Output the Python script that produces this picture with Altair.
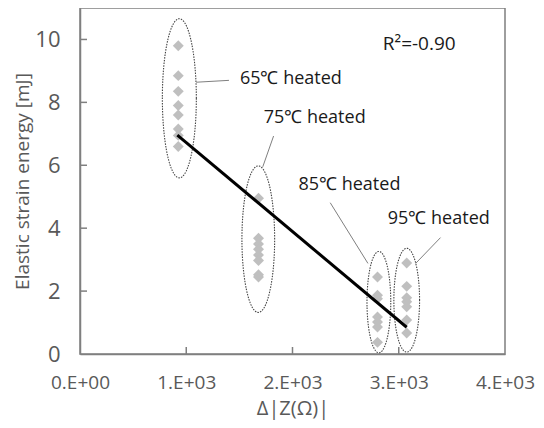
import altair as alt
import numpy as np
import pandas as pd

# ---- data ----
g65_y = [9.80, 8.85, 8.35, 7.90, 7.60, 7.15, 6.95, 6.60]
g75_y = [4.95, 3.68, 3.50, 3.33, 3.15, 2.97, 2.52, 2.45]
g85_y = [2.45, 1.87, 1.76, 1.18, 1.02, 0.86, 0.37]
g95_y = [2.89, 2.15, 1.79, 1.66, 1.50, 1.08, 0.67]
group_x = [925, 1680, 2800, 3075]
groups = ["65℃ heated", "75℃ heated", "85℃ heated", "95℃ heated"]

fit_x = [916, 3075]
fit_y = [6.96, 0.85]

# ellipse annotations: centre x, centre y, half-width (x units), half-height (y units)
ell_cx = [935, 1678, 2813, 3075]
ell_cy = [8.13, 3.65, 1.65, 1.71]
ell_rx = [160, 154, 112, 121]
ell_ry = [2.53, 2.33, 1.61, 1.65]

# leader lines and labels
lead_x1 = [1093, 1720, 2710, 3159]
lead_y1 = [8.64, 5.95, 2.88, 2.88]
lead_x2 = [1402, 1822, 2355, 3393]
lead_y2 = [8.70, 6.93, 4.81, 3.70]
label_x = [1505, 1729, 2056, 2897]
label_y = [8.73, 7.50, 5.38, 4.30]

r2_text = "R²=-0.90"
r2_x = 2850
r2_y = 9.87

y_ticks = [2, 4, 6, 8, 10]
x_ticks = [1000, 2000, 3000]

# ---- tables ----
pts = pd.DataFrame(
    [{"x": gx, "y": v, "g": g}
     for gx, g, ys in zip(group_x, groups, [g65_y, g75_y, g85_y, g95_y])
     for v in ys]
)
fit = pd.DataFrame({"x": fit_x, "y": fit_y})

t = np.linspace(0, 2 * np.pi, 121)
ell_rows = []
for i, g in enumerate(groups):
    for k, a in enumerate(t):
        ell_rows.append({"g": g, "k": k,
                         "x": ell_cx[i] + ell_rx[i] * np.cos(a),
                         "y": ell_cy[i] + ell_ry[i] * np.sin(a)})
ell = pd.DataFrame(ell_rows)

lead = pd.DataFrame({"x": lead_x1, "y": lead_y1, "x2": lead_x2, "y2": lead_y2})
labs = pd.DataFrame({"x": label_x, "y": label_y, "t": groups})
r2 = pd.DataFrame({"x": [r2_x], "y": [r2_y], "t": [r2_text]})

W, H = 425, 346
FONT = "Open Sans"
GRAY = "#595959"

xscale = alt.Scale(domain=[0, 4000], nice=False, zero=False)
yscale = alt.Scale(domain=[0, 11], nice=False, zero=False)

xaxis = alt.Axis(
    values=[0, 1000, 2000, 3000, 4000],
    labelExpr="datum.value == 0 ? '0.E+00' : format(datum.value/1000, 'd') + '.E+03'",
    title="Δ|Z(Ω)|", grid=False, ticks=False, labelPadding=19, titlePadding=6,
    labelFontSize=19, titleFontSize=20, labelFlush=False, labelOverlap=False,
)
yaxis = alt.Axis(
    values=[0, 2, 4, 6, 8, 10], title="Elastic strain energy [mJ]",
    grid=False, ticks=False, labelPadding=20, titlePadding=2,
    labelFontSize=22, titleFontSize=19, labelFlush=False, labelOverlap=False,
)

X = lambda f="x": alt.X(f"{f}:Q", scale=xscale, axis=xaxis)
Y = lambda f="y": alt.Y(f"{f}:Q", scale=yscale, axis=yaxis)

points = alt.Chart(pts).mark_point(
    shape="diamond", filled=True, color="#bfbfbf", size=120, opacity=1
).encode(x=X(), y=Y())

line = alt.Chart(fit).mark_line(color="black", strokeWidth=3).encode(x=X(), y=Y())

ellipses = alt.Chart(ell).mark_line(
    color="#444444", strokeWidth=1.1, strokeDash=[1.5, 1.2]
).encode(x=X(), y=Y(), detail="g:N", order="k:Q")

leaders = alt.Chart(lead).mark_rule(color="#7f7f7f", strokeWidth=1).encode(
    x=X(), y=Y(), x2="x2:Q", y2="y2:Q"
)

labels = alt.Chart(labs).mark_text(
    align="left", baseline="middle", font=FONT, fontSize=18, color="#1a1a1a"
).encode(x=X(), y=Y(), text="t:N")

r2_label = alt.Chart(r2).mark_text(
    align="left", baseline="middle", font=FONT, fontSize=19, color="#1a1a1a"
).encode(x=X(), y=Y(), text="t:N")

ytick_df = pd.DataFrame({"y": y_ticks})
yticks = alt.Chart(ytick_df).mark_rule(color="#7f7f7f", strokeWidth=1.5).encode(
    y=Y(), x=alt.value(0), x2=alt.value(7)
)
xtick_df = pd.DataFrame({"x": x_ticks})
xticks = alt.Chart(xtick_df).mark_rule(color="#7f7f7f", strokeWidth=1.5).encode(
    x=X(), y=alt.value(H), y2=alt.value(H - 7)
)

chart = alt.layer(
    ellipses, leaders, points, line, labels, r2_label, yticks, xticks
).properties(
    width=W, height=H,
    autosize=alt.AutoSizeParams(type="none"),
    padding={"left": 72, "top": 0, "right": 31, "bottom": 66},
).configure_view(
    stroke="#7f7f7f", strokeWidth=1.5
).configure_axis(
    domainColor="#7f7f7f", domainWidth=1.5,
    labelColor=GRAY, titleColor=GRAY, labelFont=FONT, titleFont=FONT,
    titleFontWeight="normal",
)

chart.save("out.html", embed_options={"renderer": "svg", "actions": False})
